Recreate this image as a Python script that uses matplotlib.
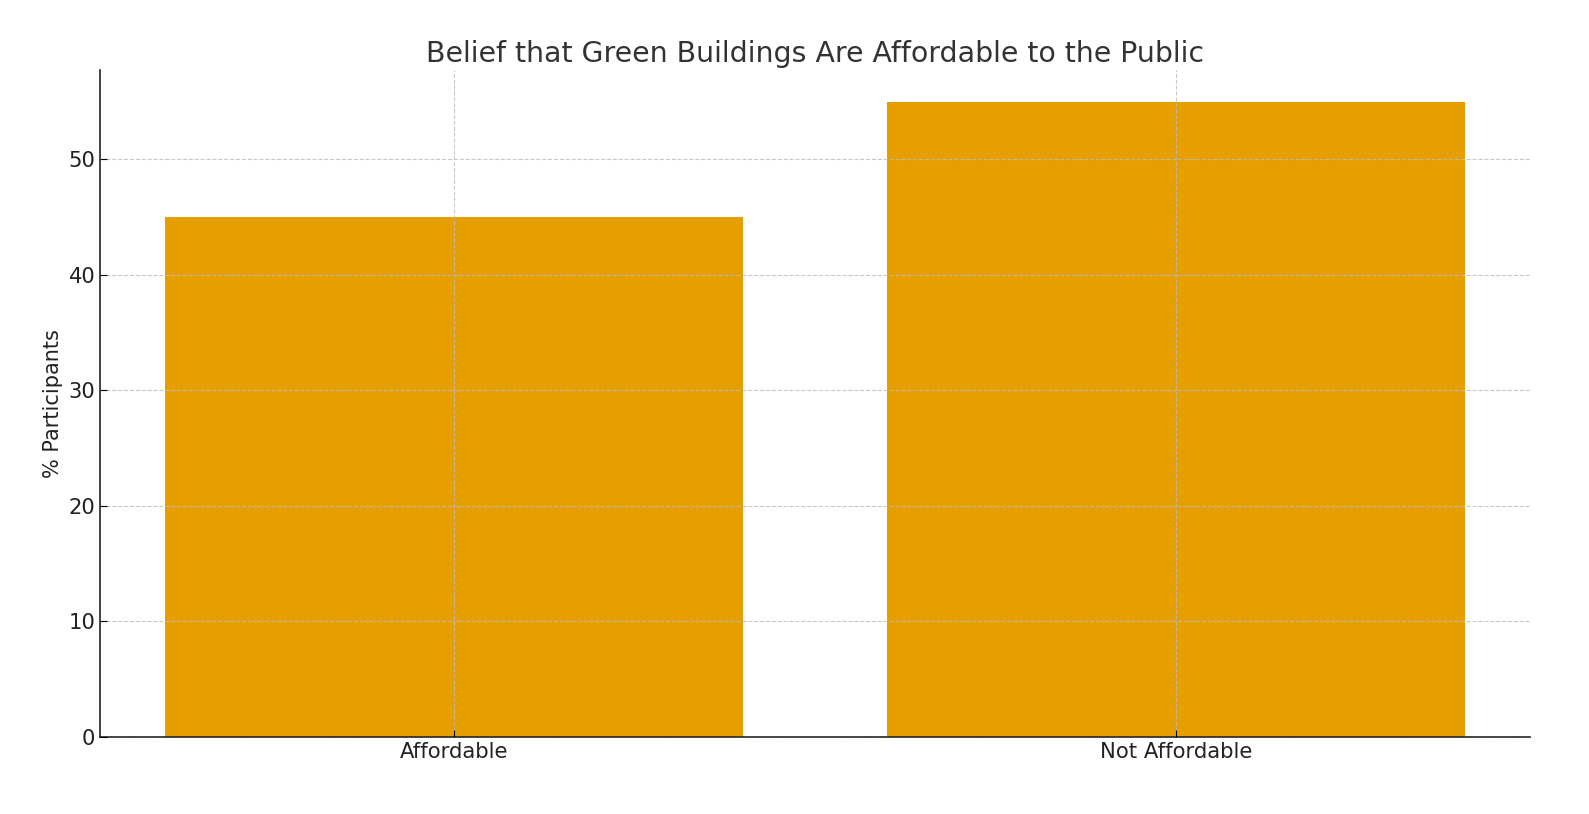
import matplotlib
matplotlib.use("Agg")
import matplotlib.pyplot as plt

categories = ["Affordable", "Not Affordable"]
percent = [45, 55]

fig, ax = plt.subplots(figsize=(15.89, 8.14), dpi=100)
ax.bar(categories, percent, color="#E69F00", width=0.8)
ax.set_axisbelow(False)
ax.grid(True, linestyle="--", color="#bbbbbb", linewidth=0.8, alpha=0.8)
ax.set_title("Belief that Green Buildings Are Affordable to the Public", fontsize=20.4, color="#333333")
ax.set_ylabel("% Participants", fontsize=15, color="#222222")
ax.tick_params(axis="both", direction="in", labelsize=15.2, labelcolor="#222222", length=5)
ax.spines["top"].set_visible(False)
ax.spines["right"].set_visible(False)
ax.spines["left"].set_color("#222222")
ax.spines["bottom"].set_color("#222222")
ax.spines["left"].set_linewidth(1.2)
ax.spines["bottom"].set_linewidth(1.2)
plt.subplots_adjust(left=0.063, right=0.963, top=0.914, bottom=0.095)
plt.savefig("out.png", dpi=100)
